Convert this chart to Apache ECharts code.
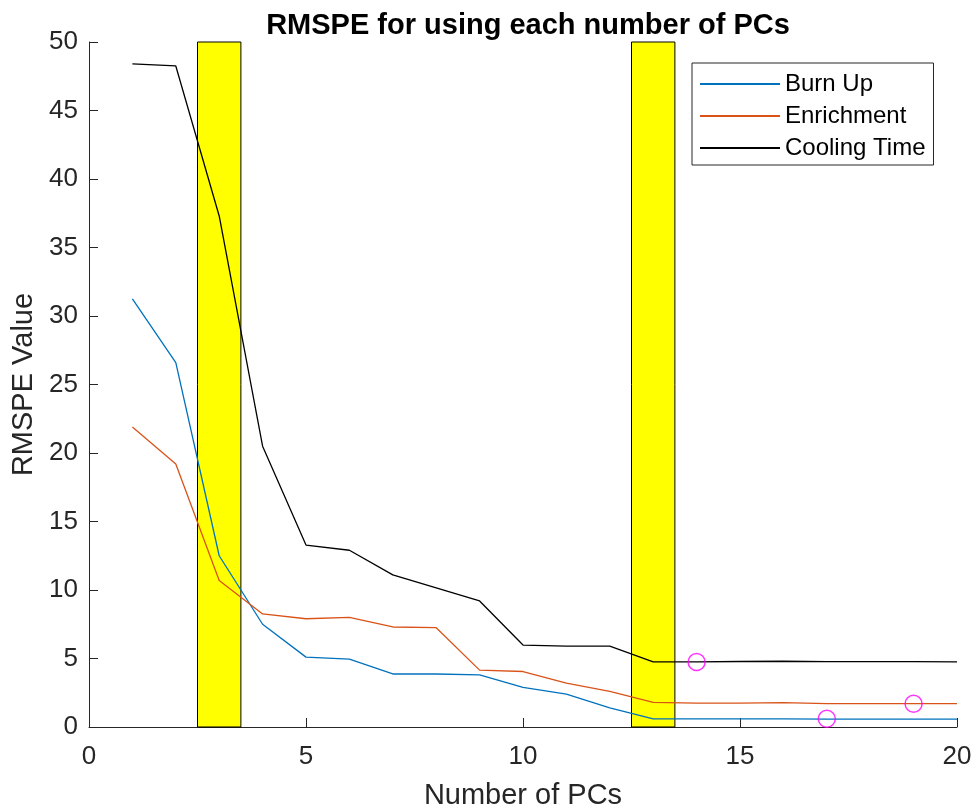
<!DOCTYPE html>
<html>
<head>
<meta charset="utf-8">
<script src="https://cdn.jsdelivr.net/npm/echarts@6/dist/echarts.min.js"></script>
<style>html,body{margin:0;padding:0;background:#fff;}#c{width:973px;height:811px;}</style>
</head>
<body>
<div id="c"></div>
<script>
const pcs = [1,2,3,4,5,6,7,8,9,10,11,12,13,14,15,16,17,18,19,20];
const burnUp = [31.25,26.6,12.5,7.5,5.1,4.96,3.87,3.87,3.8,2.9,2.4,1.4,0.6,0.6,0.6,0.6,0.58,0.58,0.58,0.58];
const enrichment = [21.9,19.2,10.7,8.25,7.9,8.0,7.3,7.25,4.15,4.05,3.2,2.6,1.8,1.75,1.75,1.78,1.7,1.7,1.7,1.7];
const coolingTime = [48.4,48.25,37.3,20.5,13.28,12.9,11.1,10.15,9.2,5.98,5.9,5.9,4.75,4.75,4.78,4.8,4.77,4.77,4.77,4.75];
const highlightRanges = [[2.5,3.5],[12.5,13.5]];
const circlePoints = [[14,4.75],[17,0.6],[19,1.7]];
const xTicks = {min:0,max:20,interval:5};
const yTicks = {min:0,max:50,interval:5};

const font = '"Liberation Sans", Arial, Helvetica, sans-serif';
const toPairs = arr => pcs.map((x,i)=>[x,arr[i]]);
const axisCommon = {
  axisLine:{show:true,lineStyle:{color:'#262626',width:1}},
  axisTick:{show:true,inside:true,length:9,lineStyle:{color:'#262626',width:1}},
  splitLine:{show:false},
  axisLabel:{color:'#262626',fontSize:26,fontFamily:font},
  nameTextStyle:{color:'#262626',fontSize:29,fontFamily:font}
};
const chart = echarts.init(document.getElementById('c'));
chart.setOption({
  animation:false,
  backgroundColor:'#fff',
  title:{text:'RMSPE for using each number of PCs',left:523,top:6,textAlign:'center',
    textStyle:{fontSize:29,fontWeight:'bold',color:'#000',fontFamily:font}},
  grid:{left:89,right:16,top:42,bottom:84,containLabel:false,outerBoundsMode:'none'},
  legend:{
    data:['Burn Up','Enrichment','Cooling Time'],
    orient:'vertical',left:692,top:63,
    padding:[9,8,5,8],itemGap:8,
    itemWidth:80,itemHeight:2,icon:'rect',
    borderColor:'#262626',borderWidth:1,backgroundColor:'#fff',
    textStyle:{fontSize:24,color:'#000',fontFamily:font,lineHeight:24}
  },
  xAxis:Object.assign({type:'value',min:xTicks.min,max:xTicks.max,interval:xTicks.interval,
    name:'Number of PCs',nameLocation:'middle',nameGap:54},axisCommon,
    {axisLabel:Object.assign({},axisCommon.axisLabel,{margin:17})}),
  yAxis:Object.assign({type:'value',min:yTicks.min,max:yTicks.max,interval:yTicks.interval,
    name:'RMSPE Value',nameLocation:'middle',nameGap:49},axisCommon,
    {axisLabel:Object.assign({},axisCommon.axisLabel,{margin:11})}),
  series:[
    {type:'line',name:'_hl',data:[],z:1,silent:true,
      markArea:{silent:true,itemStyle:{color:'#ffff00',borderColor:'#000',borderWidth:1,opacity:1},
        data:highlightRanges.map(r=>[{xAxis:r[0],yAxis:yTicks.min},{xAxis:r[1],yAxis:yTicks.max}])}},
    {type:'line',name:'Burn Up',data:toPairs(burnUp),symbol:'none',z:3,
      lineStyle:{color:'#0072BD',width:1.3},itemStyle:{color:'#0072BD'}},
    {type:'line',name:'Enrichment',data:toPairs(enrichment),symbol:'none',z:3,
      lineStyle:{color:'#D95319',width:1.3},itemStyle:{color:'#D95319'}},
    {type:'line',name:'Cooling Time',data:toPairs(coolingTime),symbol:'none',z:3,
      lineStyle:{color:'#000000',width:1.3},itemStyle:{color:'#000000'}},
    {type:'scatter',name:'_circ',data:circlePoints,symbol:'circle',symbolSize:17,z:4,
      itemStyle:{color:'rgba(0,0,0,0)',borderColor:'#ff00ff',borderWidth:1.5}}
  ]
});
</script>
</body>
</html>
